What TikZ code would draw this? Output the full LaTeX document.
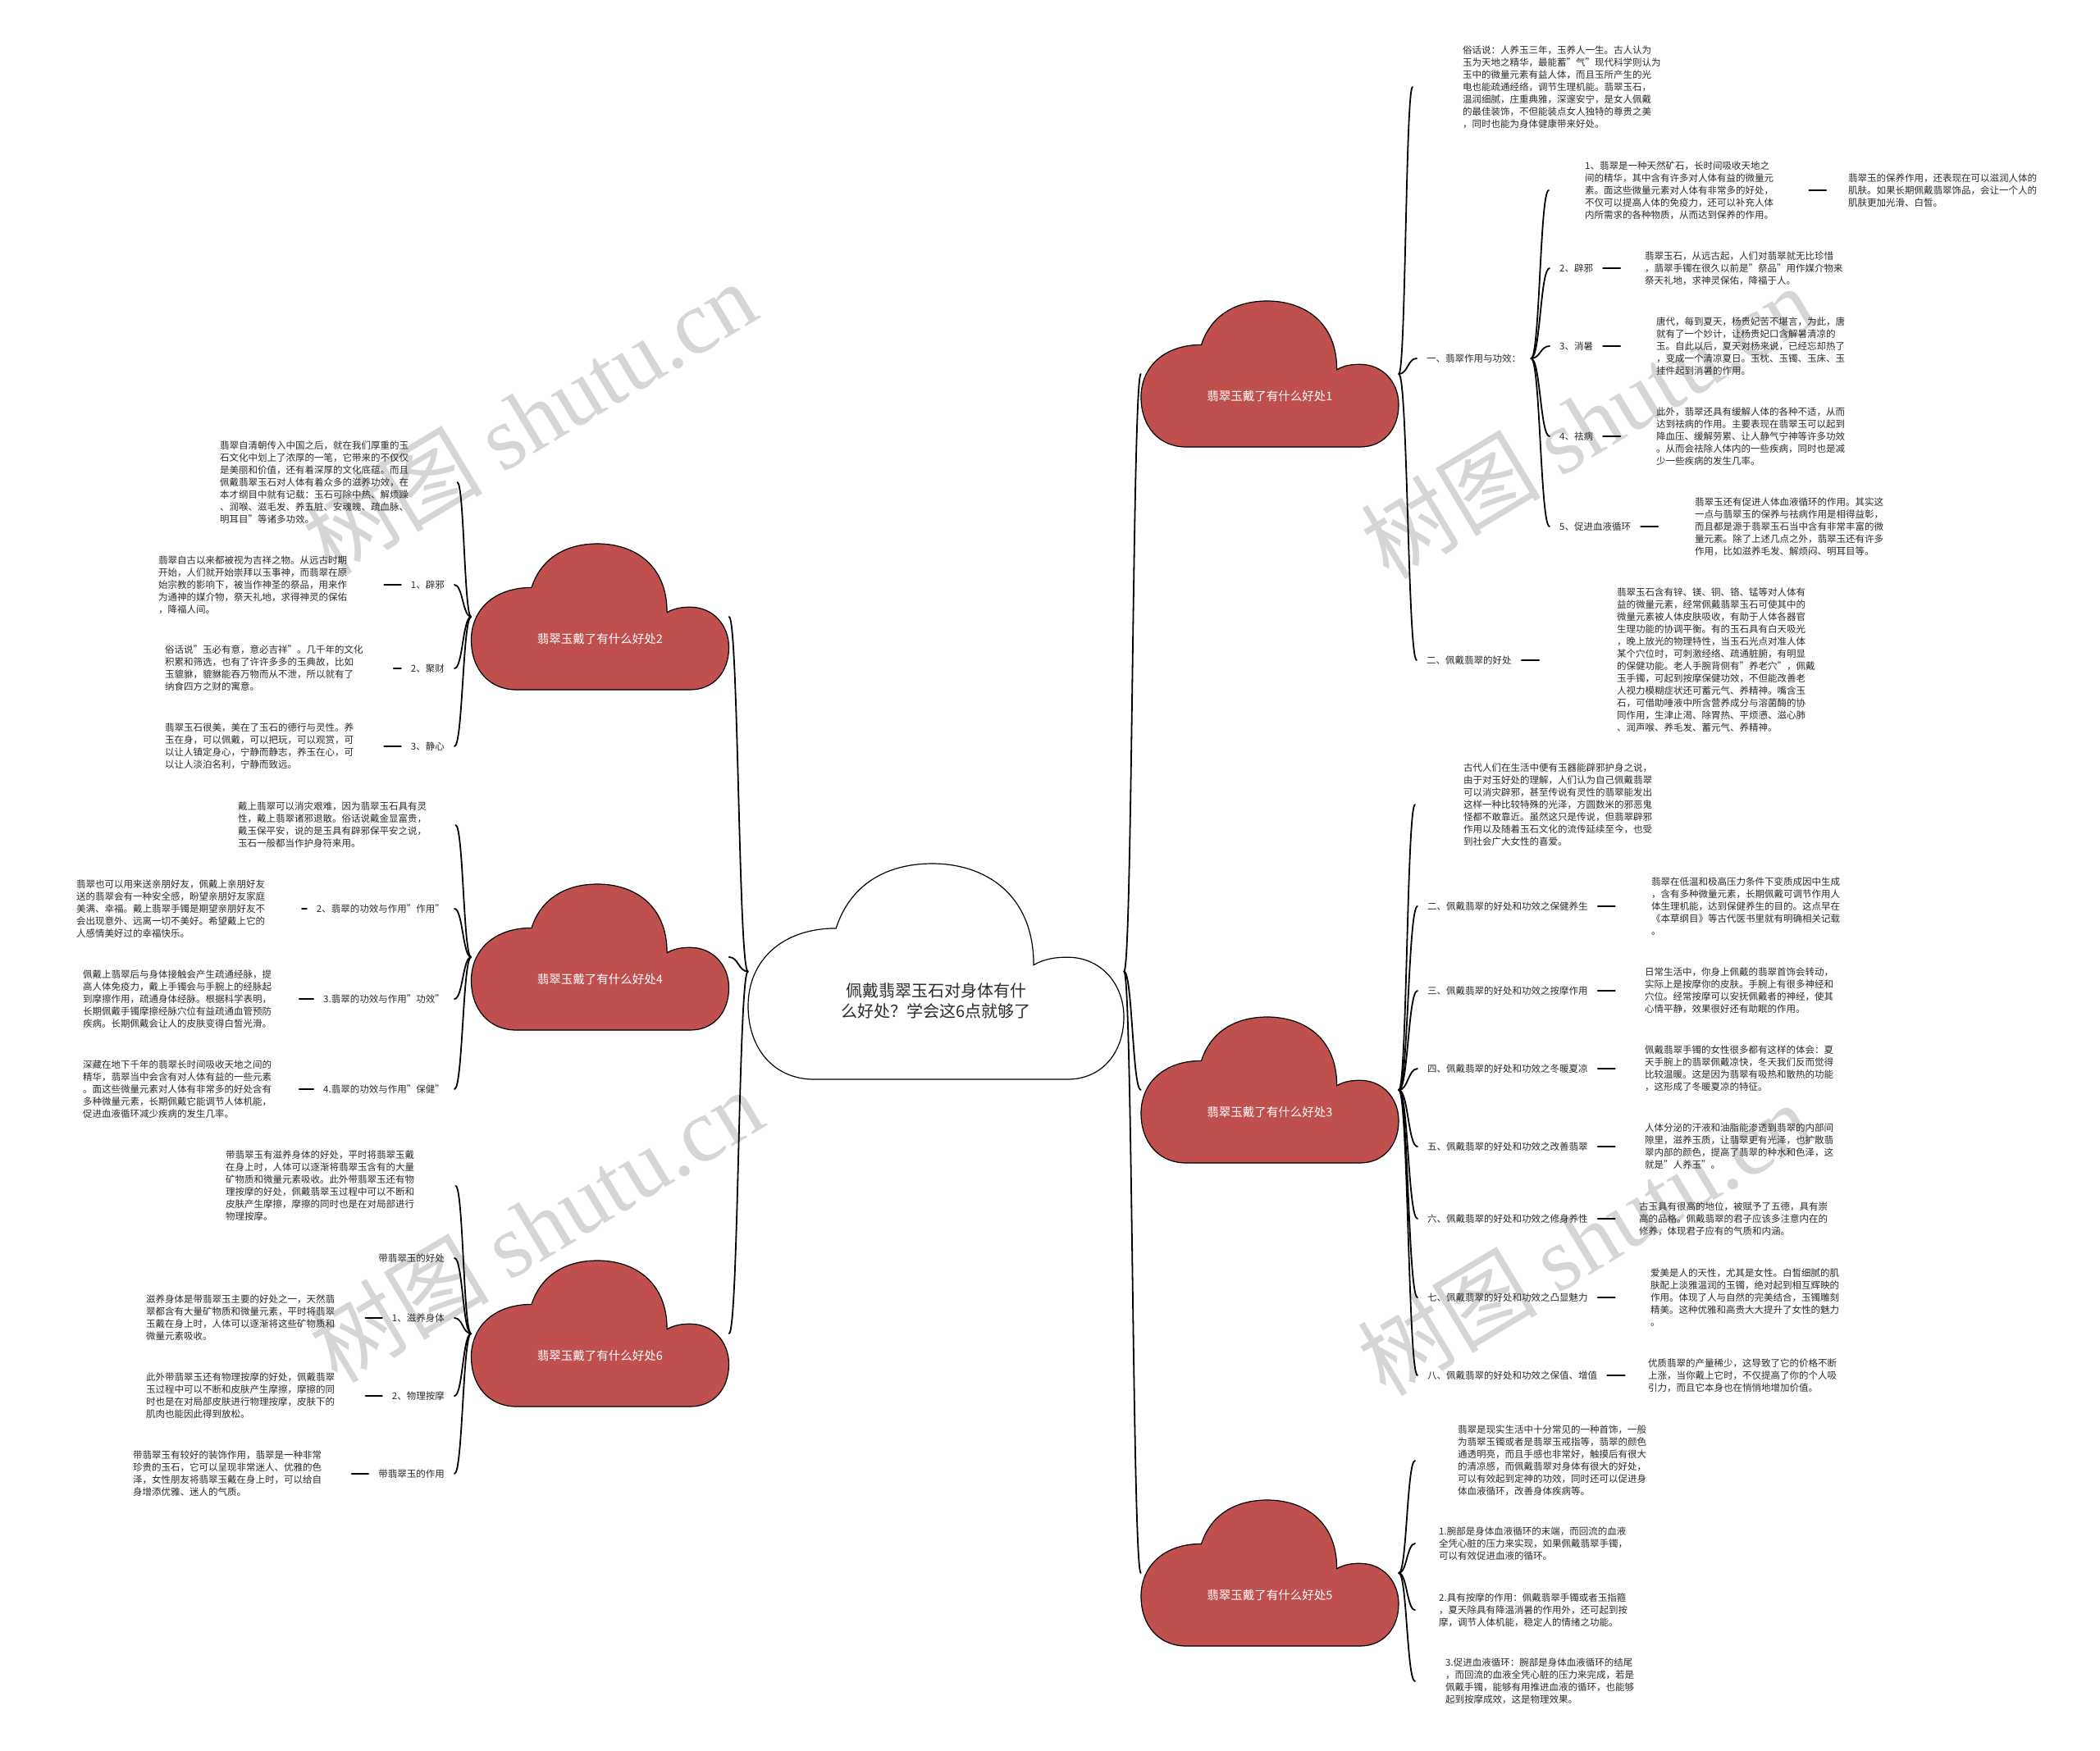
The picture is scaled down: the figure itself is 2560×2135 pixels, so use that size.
\documentclass[tikz,border=0pt]{standalone}
\usepackage{fontspec}
\setmainfont{Noto Sans CJK SC}
\newfontfamily\wmlatin{Liberation Serif}
\usetikzlibrary{calc}
\definecolor{jdred}{HTML}{C0504D}
\definecolor{jdtext}{HTML}{2B2B2B}
\definecolor{jdwm}{HTML}{D6D6D6}
\newcommand{\jdcloud}[6]{%
  \path[#6, shift={(#2,#3)}, xscale=#4, yscale=#5]
    (-0.325,0.5) .. controls (-0.43,0.5) and (-0.5,0.36) .. (-0.5,0.16)
    .. controls (-0.5,-0.05) and (-0.41,-0.2) .. (-0.266,-0.2)
    .. controls (-0.225,-0.42) and (-0.12,-0.5) .. (-0.01,-0.5)
    .. controls (0.13,-0.5) and (0.26,-0.36) .. (0.26,-0.03)
    .. controls (0.29,-0.06) and (0.32,-0.066) .. (0.35,-0.066)
    .. controls (0.44,-0.066) and (0.5,0.06) .. (0.5,0.21)
    .. controls (0.5,0.38) and (0.44,0.5) .. (0.35,0.5) -- cycle;
  \node[minimum width=#4pt, minimum height=#5pt, inner sep=0pt] (#1) at (#2,#3) {};%
}
\tikzset{
  txt/.style={font=\fontsize{11.5}{15}\selectfont, text=jdtext, align=left, inner sep=0pt, anchor=west},
  labr/.style={font=\fontsize{11.5}{15}\selectfont, text=jdtext, inner xsep=12pt, inner ysep=1pt, anchor=west},
  labl/.style={labr, anchor=east},
  link/.style={line width=1.8pt, to path={let \p1=(\tikztostart), \p2=(\tikztotarget) in
      .. controls ({0.5*\x1+0.5*\x2},\y1) and ({0.5*\x1+0.5*\x2},\y2) .. (\tikztotarget)}},
  dashln/.style={line width=2.2pt},
  cloudtitle/.style={font=\fontsize{14.5}{18}\selectfont, text=white},
  wm/.style={text=jdwm, font=\fontsize{110}{120}\selectfont, rotate=31, inner sep=0pt},
  redcloud/.style={draw=black, line width=1.2pt, fill=jdred},
}
\begin{document}
\begin{tikzpicture}[x=1pt, y=-1pt, line cap=round]
\fill[white] (0,0) rectangle (2560,2135);
\useasboundingbox (0,0) rectangle (2560,2135);

% watermarks
\node[wm] (wm1) at (645,509) {树图 {\wmlatin shutu.cn}};
\node[wm] (wm2) at (1935,514) {树图 {\wmlatin shutu.cn}};
\node[wm] (wm3) at (653,1494) {树图 {\wmlatin shutu.cn}};
\node[wm] (wm4) at (1931,1510) {树图 {\wmlatin shutu.cn}};

% clouds
\jdcloud{c0}{1141}{1184.5}{458}{263}{draw=black, line width=1.2pt, fill=white}
\jdcloud{n1}{1548}{456}{314}{178}{redcloud}
\jdcloud{n3}{1548}{1329}{314}{178}{redcloud}
\jdcloud{n5}{1548}{1918}{314}{178}{redcloud}
\jdcloud{n2}{731.5}{752}{314}{178}{redcloud}
\jdcloud{n4}{731.5}{1167}{314}{178}{redcloud}
\jdcloud{n6}{731.5}{1626}{314}{178}{redcloud}

\node[font=\fontsize{20}{25}\selectfont, text=jdtext, align=center] (c0t) at (1141,1220) {佩戴翡翠玉石对身体有什\\么好处？学会这6点就够了};
\node[cloudtitle] (n1t) at ([yshift=-27pt]n1.center) {翡翠玉戴了有什么好处1};
\node[cloudtitle] (n3t) at ([yshift=-27pt]n3.center) {翡翠玉戴了有什么好处3};
\node[cloudtitle] (n5t) at ([yshift=-27pt]n5.center) {翡翠玉戴了有什么好处5};
\node[cloudtitle] (n2t) at ([yshift=-27pt]n2.center) {翡翠玉戴了有什么好处2};
\node[cloudtitle] (n4t) at ([yshift=-27pt]n4.center) {翡翠玉戴了有什么好处4};
\node[cloudtitle] (n6t) at ([yshift=-27pt]n6.center) {翡翠玉戴了有什么好处6};

% ===== N1 subtree =====
\node[txt] (t1) at (1783,106) {俗话说：人养玉三年，玉养人一生。古人认为\\玉为天地之精华，最能蓄"气"现代科学则认为\\玉中的微量元素有益人体，而且玉所产生的光\\电也能疏通经络，调节生理机能。翡翠玉石，\\温润细腻，庄重典雅，深邃安宁，是女人佩戴\\的最佳装饰，不但能装点女人独特的尊贵之美\\，同时也能为身体健康带来好处。};
\node[labr] (l1) at (1727,437) {一、翡翠作用与功效：};
\node[txt] (c11) at (1932,232) {1、翡翠是一种天然矿石，长时间吸收天地之\\间的精华，其中含有许多对人体有益的微量元\\素。面这些微量元素对人体有非常多的好处，\\不仅可以提高人体的免疫力，还可以补充人体\\内所需求的各种物质，从而达到保养的作用。};
\node[txt] (c11b) at (2253,232) {翡翠玉的保养作用，还表现在可以滋润人体的\\肌肤。如果长期佩戴翡翠饰品，会让一个人的\\肌肤更加光滑、白皙。};
\node[labr] (l12) at (1889,327) {2、辟邪};
\node[txt] (b12) at (2005,327) {翡翠玉石，从远古起，人们对翡翠就无比珍惜\\，翡翠手镯在很久以前是"祭品"用作媒介物来\\祭天礼地，求神灵保佑，降福于人。};
\node[labr] (l13) at (1889,422) {3、消暑};
\node[txt] (b13) at (2019,422) {唐代，每到夏天，杨贵妃苦不堪言，为此，唐\\就有了一个妙计，让杨贵妃口含解暑清凉的\\玉。自此以后，夏天对杨来说，已经忘却热了\\，变成一个清凉夏日。玉枕、玉镯、玉床、玉\\挂件起到消暑的作用。};
\node[labr] (l14) at (1889,532) {4、祛病};
\node[txt] (b14) at (2019,532) {此外，翡翠还具有缓解人体的各种不适，从而\\达到祛病的作用。主要表现在翡翠玉可以起到\\降血压、缓解劳累、让人静气宁神等许多功效\\。从而会祛除人体内的一些疾病，同时也是减\\少一些疾病的发生几率。};
\node[labr] (l15) at (1889,642) {5、促进血液循环};
\node[txt] (b15) at (2066,642) {翡翠玉还有促进人体血液循环的作用。其实这\\一点与翡翠玉的保养与祛病作用是相得益彰，\\而且都是源于翡翠玉石当中含有非常丰富的微\\量元素。除了上述几点之外，翡翠玉还有许多\\作用，比如滋养毛发、解烦闷、明耳目等。};
\node[labr] (l2) at (1727,805) {二、佩戴翡翠的好处};
\node[txt] (b2) at (1971,805) {翡翠玉石含有锌、镁、铜、铬、锰等对人体有\\益的微量元素，经常佩戴翡翠玉石可使其中的\\微量元素被人体皮肤吸收，有助于人体各器官\\生理功能的协调平衡。有的玉石具有白天吸光\\，晚上放光的物理特性，当玉石光点对准人体\\某个穴位时，可刺激经络、疏通脏腑，有明显\\的保健功能。老人手腕背侧有"养老穴"，佩戴\\玉手镯，可起到按摩保健功效，不但能改善老\\人视力模糊症状还可蓄元气、养精神。嘴含玉\\石，可借助唾液中所含营养成分与溶菌酶的协\\同作用，生津止渴、除胃热、平烦懑、滋心肺\\、润声喉、养毛发、蓄元气、养精神。};

% ===== N3 subtree =====
\node[txt] (t3) at (1784,981) {古代人们在生活中便有玉器能辟邪护身之说，\\由于对玉好处的理解，人们认为自己佩戴翡翠\\可以消灾辟邪，甚至传说有灵性的翡翠能发出\\这样一种比较特殊的光泽，方圆数米的邪恶鬼\\怪都不敢靠近。虽然这只是传说，但翡翠辟邪\\作用以及随着玉石文化的流传延续至今，也受\\到社会广大女性的喜爱。};
\node[labr] (l32) at (1728,1105) {二、佩戴翡翠的好处和功效之保健养生};
\node[txt] (b32) at (2013,1105) {翡翠在低温和极高压力条件下变质成因中生成\\，含有多种微量元素，长期佩戴可调节作用人\\体生理机能，达到保健养生的目的。这点早在\\《本草纲目》等古代医书里就有明确相关记载\\。};
\node[labr] (l33) at (1728,1208) {三、佩戴翡翠的好处和功效之按摩作用};
\node[txt] (b33) at (2005,1208) {日常生活中，你身上佩戴的翡翠首饰会转动，\\实际上是按摩你的皮肤。手腕上有很多神经和\\穴位。经常按摩可以安抚佩戴者的神经，使其\\心情平静，效果很好还有助眠的作用。};
\node[labr] (l34) at (1728,1303) {四、佩戴翡翠的好处和功效之冬暖夏凉};
\node[txt] (b34) at (2005,1303) {佩戴翡翠手镯的女性很多都有这样的体会：夏\\天手腕上的翡翠佩戴凉快，冬天我们反而觉得\\比较温暖。这是因为翡翠有吸热和散热的功能\\，这形成了冬暖夏凉的特征。};
\node[labr] (l35) at (1728,1398) {五、佩戴翡翠的好处和功效之改善翡翠};
\node[txt] (b35) at (2005,1398) {人体分泌的汗液和油脂能渗透到翡翠的内部间\\隙里，滋养玉质，让翡翠更有光泽，也扩散翡\\翠内部的颜色，提高了翡翠的种水和色泽，这\\就是"人养玉"。};
\node[labr] (l36) at (1728,1486) {六、佩戴翡翠的好处和功效之修身养性};
\node[txt] (b36) at (1998,1486) {古玉具有很高的地位，被赋予了五德，具有崇\\高的品格。佩戴翡翠的君子应该多注意内在的\\修养，体现君子应有的气质和内涵。};
\node[labr] (l37) at (1728,1582) {七、佩戴翡翠的好处和功效之凸显魅力};
\node[txt] (b37) at (2012,1582) {爱美是人的天性，尤其是女性。白皙细腻的肌\\肤配上淡雅温润的玉镯，绝对起到相互辉映的\\作用。体现了人与自然的完美结合，玉镯雕刻\\精美。这种优雅和高贵大大提升了女性的魅力\\。};
\node[labr] (l38) at (1728,1677) {八、佩戴翡翠的好处和功效之保值、增值};
\node[txt] (b38) at (2009,1677) {优质翡翠的产量稀少，这导致了它的价格不断\\上涨，当你戴上它时，不仅提高了你的个人吸\\引力，而且它本身也在悄悄地增加价值。};

% ===== N5 subtree =====
\node[txt] (b50) at (1777,1781) {翡翠是现实生活中十分常见的一种首饰，一般\\为翡翠玉镯或者是翡翠玉戒指等，翡翠的颜色\\通透明亮，而且手感也非常好，触摸后有很大\\的清凉感，而佩戴翡翠对身体有很大的好处，\\可以有效起到定神的功效，同时还可以促进身\\体血液循环，改善身体疾病等。};
\node[txt] (b51) at (1754,1882) {1.腕部是身体血液循环的末端，而回流的血液\\全凭心脏的压力来实现，如果佩戴翡翠手镯，\\可以有效促进血液的循环。};
\node[txt] (b52) at (1754,1963) {2.具有按摩的作用：佩戴翡翠手镯或者玉指箍\\，夏天除具有降温消暑的作用外，还可起到按\\摩，调节人体机能，稳定人的情绪之功能。};
\node[txt] (b53) at (1762,2050) {3.促进血液循环：腕部是身体血液循环的结尾\\，而回流的血液全凭心脏的压力来完成，若是\\佩戴手镯，能够有用推进血液的循环，也能够\\起到按摩成效，这是物理效果。};

% ===== N2 subtree =====
\node[txt] (b20) at (268,588) {翡翠自清朝传入中国之后，就在我们厚重的玉\\石文化中划上了浓厚的一笔，它带来的不仅仅\\是美丽和价值，还有着深厚的文化底蕴。而且\\佩戴翡翠玉石对人体有着众多的滋养功效，在\\本才纲目中就有记载：玉石可除中热、解烦躁\\、润喉、滋毛发、养五脏、安魂魄、疏血脉、\\明耳目"等诸多功效。};
\node[labl] (l21) at (554,713) {1、辟邪};
\node[txt] (b21) at (193,713) {翡翠自古以来都被视为吉祥之物。从远古时期\\开始，人们就开始崇拜以玉事神，而翡翠在原\\始宗教的影响下，被当作神圣的祭品，用来作\\为通神的媒介物，祭天礼地，求得神灵的保佑\\，降福人间。};
\node[labl] (l22) at (554,815) {2、聚财};
\node[txt] (b22) at (201,815) {俗话说"玉必有意，意必吉祥"。几千年的文化\\积累和筛选，也有了许许多多的玉典故，比如\\玉貔貅，貔貅能吞万物而从不泄，所以就有了\\纳食四方之财的寓意。};
\node[labl] (l23) at (554,910) {3、静心};
\node[txt] (b23) at (201,910) {翡翠玉石很美，美在了玉石的德行与灵性。养\\玉在身，可以佩戴，可以把玩，可以观赏，可\\以让人镇定身心，宁静而静志，养玉在心，可\\以让人淡泊名利，宁静而致远。};

% ===== N4 subtree =====
\node[txt] (b40) at (290,1006) {戴上翡翠可以消灾艰难，因为翡翠玉石具有灵\\性，戴上翡翠诸邪退散。俗话说戴金显富贵，\\戴玉保平安，说的是玉具有辟邪保平安之说，\\玉石一般都当作护身符来用。};
\node[labl] (l42) at (554,1108) {2、翡翠的功效与作用"作用"};
\node[txt] (b42) at (93,1108) {翡翠也可以用来送亲朋好友，佩戴上亲朋好友\\送的翡翠会有一种安全感，盼望亲朋好友家庭\\美满、幸福。戴上翡翠手镯是期望亲朋好友不\\会出现意外、远离一切不美好。希望戴上它的\\人感情美好过的幸福快乐。};
\node[labl] (l43) at (554,1218) {3.翡翠的功效与作用"功效"};
\node[txt] (b43) at (101,1218) {佩戴上翡翠后与身体接触会产生疏通经脉，提\\高人体免疫力，戴上手镯会与手腕上的经脉起\\到摩擦作用，疏通身体经脉。根据科学表明，\\长期佩戴手镯摩擦经脉穴位有益疏通血管预防\\疾病。长期佩戴会让人的皮肤变得白皙光滑。};
\node[labl] (l44) at (554,1328) {4.翡翠的功效与作用"保健"};
\node[txt] (b44) at (101,1328) {深藏在地下千年的翡翠长时间吸收天地之间的\\精华，翡翠当中会含有对人体有益的一些元素\\。面这些微量元素对人体有非常多的好处含有\\多种微量元素，长期佩戴它能调节人体机能，\\促进血液循环减少疾病的发生几率。};

% ===== N6 subtree =====
\node[txt] (b60) at (275,1446) {带翡翠玉有滋养身体的好处，平时将翡翠玉戴\\在身上时，人体可以逐渐将翡翠玉含有的大量\\矿物质和微量元素吸收。此外带翡翠玉还有物\\理按摩的好处，佩戴翡翠玉过程中可以不断和\\皮肤产生摩擦，摩擦的同时也是在对局部进行\\物理按摩。};
\node[labl] (l61) at (554,1534) {带翡翠玉的好处};
\node[labl] (l62) at (554,1607) {1、滋养身体};
\node[txt] (b62) at (178,1607) {滋养身体是带翡翠玉主要的好处之一，天然翡\\翠都含有大量矿物质和微量元素，平时将翡翠\\玉戴在身上时，人体可以逐渐将这些矿物质和\\微量元素吸收。};
\node[labl] (l63) at (554,1702) {2、物理按摩};
\node[txt] (b63) at (178,1702) {此外带翡翠玉还有物理按摩的好处，佩戴翡翠\\玉过程中可以不断和皮肤产生摩擦，摩擦的同\\时也是在对局部皮肤进行物理按摩，皮肤下的\\肌肉也能因此得到放松。};
\node[labl] (l64) at (554,1797) {带翡翠玉的作用};
\node[txt] (b64) at (162,1797) {带翡翠玉有较好的装饰作用，翡翠是一种非常\\珍贵的玉石，它可以呈现非常迷人、优雅的色\\泽，女性朋友将翡翠玉戴在身上时，可以给自\\身增添优雅、迷人的气质。};

% ===== connectors =====
\draw[link] (c0.east) to (n1.west);
\draw[link] (c0.east) to (n3.west);
\draw[link] (c0.east) to (n5.west);
\draw[link] (c0.west) to (n2.east);
\draw[link] (c0.west) to (n4.east);
\draw[link] (c0.west) to (n6.east);

\draw[link] (n1.east) to ([xshift=-61pt]t1.west);
\draw[link] (n1.east) to (l1.west);
\draw[link] (n1.east) to (l2.west);
\draw[link] (l1.east) to ([xshift=-44pt]c11.west);
\draw[link] (l1.east) to (l12.west);
\draw[link] (l1.east) to (l13.west);
\draw[link] (l1.east) to (l14.west);
\draw[link] (l1.east) to (l15.west);

\draw[link] (n3.east) to ([xshift=-59pt]t3.west);
\draw[link] (n3.east) to (l32.west);
\draw[link] (n3.east) to (l33.west);
\draw[link] (n3.east) to (l34.west);
\draw[link] (n3.east) to (l35.west);
\draw[link] (n3.east) to (l36.west);
\draw[link] (n3.east) to (l37.west);
\draw[link] (n3.east) to (l38.west);

\draw[link] (n5.east) to ([xshift=-52pt]b50.west);
\draw[link] (n5.east) to ([xshift=-29pt]b51.west);
\draw[link] (n5.east) to ([xshift=-29pt]b52.west);
\draw[link] (n5.east) to ([xshift=-37pt]b53.west);

\draw[link] (n2.west) to ([xshift=59pt]b20.east);
\draw[link] (n2.west) to (l21.east);
\draw[link] (n2.west) to (l22.east);
\draw[link] (n2.west) to (l23.east);

\draw[link] (n4.west) to ([xshift=35pt]b40.east);
\draw[link] (n4.west) to (l42.east);
\draw[link] (n4.west) to (l43.east);
\draw[link] (n4.west) to (l44.east);

\draw[link] (n6.west) to ([xshift=50pt]b60.east);
\draw[link] (n6.west) to (l61.east);
\draw[link] (n6.west) to (l62.east);
\draw[link] (n6.west) to (l63.east);
\draw[link] (n6.west) to (l64.east);

% ===== dashes =====
\draw[dashln, shorten <=43pt, shorten >=27pt] (c11.east) -- (c11b.west);
\draw[dashln, shorten >=30pt] (l12.east) -- (b12.west);
\draw[dashln, shorten >=44pt] (l13.east) -- (b13.west);
\draw[dashln, shorten >=44pt] (l14.east) -- (b14.west);
\draw[dashln, shorten >=45pt] (l15.east) -- (b15.west);
\draw[dashln, shorten >=95pt] (l2.east) -- (b2.west);
\draw[dashln, shorten >=44.5pt] (l32.east) -- (b32.west);
\draw[dashln, shorten >=36.5pt] (l33.east) -- (b33.west);
\draw[dashln, shorten >=36.5pt] (l34.east) -- (b34.west);
\draw[dashln, shorten >=36.5pt] (l35.east) -- (b35.west);
\draw[dashln, shorten >=29.5pt] (l36.east) -- (b36.west);
\draw[dashln, shorten >=43.5pt] (l37.east) -- (b37.west);
\draw[dashln, shorten >=28.5pt] (l38.east) -- (b38.west);
\draw[dashln, shorten >=45pt] (l21.west) -- (b21.east);
\draw[dashln, shorten >=37pt] (l22.west) -- (b22.east);
\draw[dashln, shorten >=37pt] (l23.west) -- (b23.east);
\draw[dashln, shorten >=44.7pt] (l42.west) -- (b42.east);
\draw[dashln, shorten >=33.6pt] (l43.west) -- (b43.east);
\draw[dashln, shorten >=33.6pt] (l44.west) -- (b44.east);
\draw[dashln, shorten >=37.2pt] (l62.west) -- (b62.east);
\draw[dashln, shorten >=37.2pt] (l63.west) -- (b63.east);
\draw[dashln, shorten >=36.5pt] (l64.west) -- (b64.east);
\end{tikzpicture}
\end{document}
